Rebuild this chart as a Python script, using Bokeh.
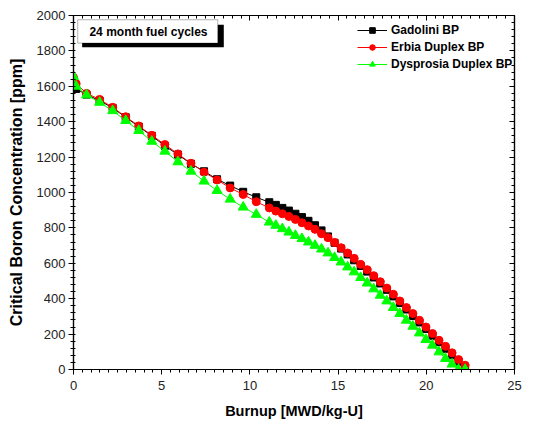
from bokeh.plotting import figure
from bokeh.models import (Range1d, LinearAxis, SingleIntervalTicker, Legend, LegendItem,
                          Label, BoxAnnotation, CustomLabelingPolicy)
from bokeh.embed import file_html
from bokeh.resources import INLINE

# ---- data ----
burnup = [0.00, 0.15, 0.74, 1.48, 2.22, 2.96, 3.70, 4.44, 5.18, 5.92, 6.66, 7.40, 8.14,
          8.88, 9.62, 10.36, 11.10, 11.47, 11.84, 12.21, 12.58, 12.95, 13.32, 13.69,
          14.06, 14.43, 14.80, 15.17, 15.54, 15.91, 16.28, 16.65, 17.02, 17.39, 17.76,
          18.13, 18.50, 18.87, 19.24, 19.61, 19.98, 20.35, 20.72, 21.09, 21.46, 21.83, 22.20]

gadolini = [1625, 1585, 1553, 1519, 1478, 1425, 1372, 1320, 1263, 1214, 1162, 1120, 1075,
            1039, 1004, 973, 945, 930, 913, 898, 880, 861, 840, 815, 786, 752, 716, 683,
            650, 617, 585, 553, 520, 486, 450, 413, 376, 339, 302, 266, 229, 191, 154,
            117, 80, 43, 12]

erbia = [1650, 1615, 1560, 1526, 1481, 1428, 1376, 1323, 1271, 1218, 1165, 1115, 1071,
         1026, 989, 948, 913, 895, 880, 865, 848, 829, 811, 792, 767, 745, 718, 688, 658,
         628, 594, 564, 530, 496, 460, 425, 387, 350, 316, 278, 240, 203, 165, 131, 94,
         56, 24]

dysprosia = [1655, 1600, 1551, 1509, 1462, 1406, 1350, 1289, 1233, 1173, 1120, 1064, 1011,
             962, 917, 876, 832, 814, 795, 776, 757, 739, 720, 701, 680, 658, 632, 607,
             579, 551, 519, 488, 455, 419, 387, 350, 316, 278, 244, 206, 169, 137, 99, 62,
             30, 0, 0]

series_names = ["Gadolini BP", "Erbia Duplex BP", "Dysprosia Duplex BP"]
x_title = "Burnup [MWD/kg-U]"
y_title = "Critical Boron Concentration [ppm]"
note_text = "24 month fuel cycles"

FONT = "Liberation Sans"

p = figure(frame_width=441, frame_height=354, output_backend="svg", toolbar_location=None,
           x_range=Range1d(0, 25), y_range=Range1d(0, 2000),
           min_border_left=73, min_border_right=20, min_border_top=15, min_border_bottom=61)
p.xgrid.visible = False
p.ygrid.visible = False
p.outline_line_color = "black"
p.outline_line_width = 1.2

p.xaxis.ticker = SingleIntervalTicker(interval=5, num_minor_ticks=10)
p.yaxis.ticker = SingleIntervalTicker(interval=200, num_minor_ticks=5)

for ax in (p.xaxis[0], p.yaxis[0]):
    ax.axis_line_color = "black"
    ax.axis_line_width = 1.2
    ax.major_tick_line_color = "black"
    ax.minor_tick_line_color = "black"
    ax.major_label_text_font = FONT
    ax.major_label_text_font_size = "13px"
    ax.major_label_text_color = "#222222"
    ax.axis_label_text_font = FONT
    ax.axis_label_text_font_style = "bold"
    ax.axis_label_text_color = "black"

p.xaxis.axis_label = x_title
p.yaxis.axis_label = y_title
p.xaxis.axis_label_text_font_size = "14.5px"
p.yaxis.axis_label_text_font_size = "16px"
p.xaxis.major_tick_out = 5
p.xaxis.major_tick_in = 0
p.xaxis.minor_tick_out = 3
p.xaxis.minor_tick_in = 0
p.xaxis.major_label_standoff = 6
p.xaxis.axis_label_standoff = 10
p.yaxis.major_tick_out = 5
p.yaxis.major_tick_in = 0
p.yaxis.minor_tick_out = 3
p.yaxis.minor_tick_in = 2
p.yaxis.major_label_standoff = 3
p.yaxis.axis_label_standoff = 9

no_labels = CustomLabelingPolicy(code="""
    const n = indices.size
    for (let i = 0; i < n; i++) { indices.unset(i) }
    return indices
""")
top = LinearAxis(ticker=SingleIntervalTicker(interval=5, num_minor_ticks=10))
right = LinearAxis(ticker=SingleIntervalTicker(interval=200, num_minor_ticks=5))
for ax in (top, right):
    ax.major_label_policy = no_labels
    ax.major_label_text_font_size = "2px"
    ax.major_tick_in = 5
    ax.major_tick_out = 0
    ax.minor_tick_in = 3
    ax.minor_tick_out = 0
    ax.axis_line_width = 1.2
    ax.major_label_standoff = 0
p.add_layout(top, "above")
p.add_layout(right, "right")

# note box with drop shadow
shadow = BoxAnnotation(left=0.49, right=8.52, top=1948, bottom=1820,
                       fill_color="black", fill_alpha=1, line_color=None, level="overlay")
box = BoxAnnotation(left=0.24, right=8.18, top=1976, bottom=1844,
                    fill_color="white", fill_alpha=1, line_color="black", line_width=1,
                    level="overlay")
p.add_layout(shadow)
p.add_layout(box)
p.add_layout(Label(x=4.25, y=1906, text=note_text, text_align="center",
                   text_baseline="middle", text_font=FONT, text_font_size="12px",
                   text_font_style="bold", text_color="black", level="overlay"))

colors = ["#000000", "#ff0000", "#00ff00"]
markers = ["square", "circle", "triangle"]
sizes = [7, 8, 10]
datas = [gadolini, erbia, dysprosia]
items = []
for name, col, mk, sz, ys in zip(series_names, colors, markers, sizes, datas):
    lr = p.line(burnup, ys, line_color=col, line_width=1)
    sr = p.scatter(burnup, ys, marker=mk, size=sz, fill_color=col, line_color=col)
    items.append(LegendItem(label=name, renderers=[lr, sr]))

legend = Legend(items=items, location=(282, 296), orientation="vertical",
                border_line_alpha=0, background_fill_alpha=0,
                glyph_width=30, glyph_height=14, label_height=14, spacing=3,
                padding=2, margin=0, label_standoff=4,
                label_text_font=FONT, label_text_font_size="12px",
                label_text_font_style="bold", label_text_color="black")
p.add_layout(legend)

open("out.html", "w").write(file_html(p, INLINE))
